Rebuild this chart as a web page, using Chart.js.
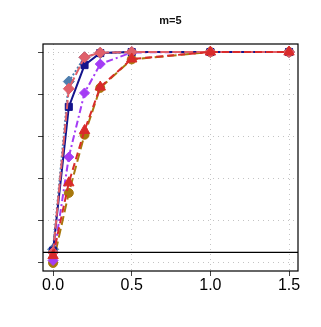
<!DOCTYPE html>
<html>
<head>
<meta charset="utf-8">
<script src="https://cdn.jsdelivr.net/npm/chart.js@4/dist/chart.umd.min.js"></script>
<style>
  html, body { margin: 0; padding: 0; background: #fff; }
  #wrap { width: 321px; height: 327px; }
</style>
</head>
<body>
<div id="wrap"><canvas id="myChart" width="321" height="327"></canvas></div>
<script>
const titleText = 'm=5';
const xValues = [0, 0.1, 0.2, 0.3, 0.5, 1.0, 1.5];
const xTicks = [0, 0.5, 1.0, 1.5];
const yTicks = [0, 0.2, 0.4, 0.6, 0.8, 1.0];
const refLevel = 0.05;

const steelDiamond = [0.065, 0.86, 0.975, 0.995, 1, 1, 1];
const navySquare   = [0.058, 0.74, 0.938, 0.995, 1, 1, 1];
const redDiamond   = [0.05, 0.826, 0.975, 0.997, 1, 1, 1];
const purpleDiamond = [0.012, 0.502, 0.806, 0.943, 0.998, 1, 1];
const redTriangle  = [0.035, 0.38, 0.628, 0.834, 0.967, 1, 1];
const brownCircle  = [0.0, 0.332, 0.608, 0.83, 0.965, 1, 1];

const xMin = -0.064, xMax = 1.557;
const yMin = -0.038, yMax = 1.038;

function pts(vals) {
  return vals.map((v, i) => ({ x: xValues[i], y: v }));
}

function series(vals, color, shape, radius, dash) {
  return {
    data: pts(vals),
    borderColor: color,
    backgroundColor: color,
    borderWidth: 2,
    borderDash: dash,
    pointStyle: shape,
    pointRadius: radius,
    pointBorderWidth: 1,
    tension: 0
  };
}

// black box round the plot area, title centred over it
const frame = {
  id: 'frame',
  afterDatasetsDraw(chart) {
    const a = chart.chartArea, c = chart.ctx;
    c.save();
    c.strokeStyle = '#000';
    c.lineWidth = 1.2;
    c.strokeRect(a.left, a.top, a.right - a.left, a.bottom - a.top);
    c.fillStyle = '#111';
    c.font = 'bold 11px "Liberation Sans", Arial, sans-serif';
    c.textAlign = 'center';
    c.textBaseline = 'middle';
    c.fillText(titleText, (a.left + a.right) / 2, 21);
    c.restore();
  }
};

const ctx = document.getElementById('myChart').getContext('2d');
new Chart(ctx, {
  type: 'line',
  data: {
    datasets: [
      {
        data: [{ x: xMin, y: refLevel }, { x: xMax, y: refLevel }],
        borderColor: '#000', borderWidth: 1.2, pointRadius: 0
      },
      series(redTriangle, '#d92b2b', 'triangle', 6, [7, 4]),
      series(redDiamond, '#e0606a', 'rectRot', 5.5, [9, 3]),
      series(navySquare, '#14148c', 'rect', 5, []),
      series(purpleDiamond, '#a43cf5', 'rectRot', 5, [7, 3, 2, 3]),
      series(brownCircle, '#a8780c', 'circle', 4.5, [9, 4]),
      series(steelDiamond, '#4f7fae', 'rectRot', 5.5, [2, 2])
    ]
  },
  options: {
    responsive: false,
    animation: false,
    layout: { padding: { left: 0, right: 23, top: 44, bottom: 0 } },
    plugins: {
      legend: { display: false },
      tooltip: { enabled: false },
      title: { display: false }
    },
    scales: {
      x: {
        type: 'linear',
        min: xMin,
        max: xMax,
        afterBuildTicks: s => { s.ticks = xTicks.map(v => ({ value: v })); },
        afterFit: s => { s.height = 56; },
        ticks: {
          color: '#000',
          padding: 0,
          maxRotation: 0,
          font: { family: 'Liberation Sans, Arial, sans-serif', size: 16 },
          callback: v => v.toFixed(1)
        },
        grid: { color: '#c4c4c4', tickColor: '#444', tickLength: 5, tickBorderDash: [] },
        border: { display: false, dash: [1, 4] }
      },
      y: {
        type: 'linear',
        min: yMin,
        max: yMax,
        afterBuildTicks: s => { s.ticks = yTicks.map(v => ({ value: v })); },
        afterFit: s => { s.width = 43; },
        ticks: { display: false },
        grid: { color: '#c4c4c4', tickColor: '#444', tickLength: 5, tickBorderDash: [] },
        border: { display: false, dash: [1, 4] }
      }
    }
  },
  plugins: [frame]
});
</script>
</body>
</html>
